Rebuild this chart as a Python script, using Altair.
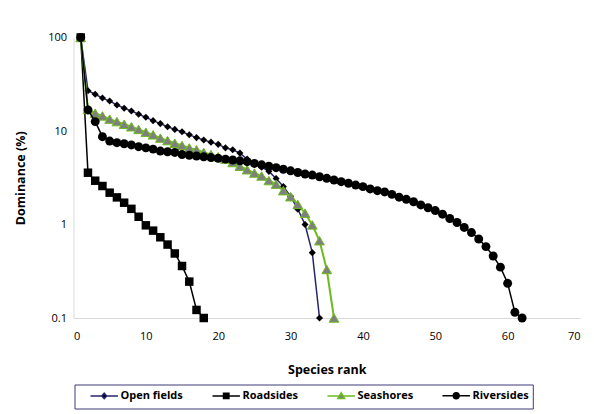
import altair as alt
import pandas as pd

series_names = ["Open fields", "Roadsides", "Seashores", "Riversides"]

open_fields = [100, 27, 24.7, 22.5, 20.9, 19, 17.5, 16.4, 15.1, 14.0, 12.9, 12.0, 11.1, 10.4,
               9.8, 9.1, 8.5, 8.0, 7.6, 7.2, 6.6, 6.3, 5.8, 5.0, 4.5, 4.1, 3.7, 3.1, 2.55,
               2.0, 1.46, 1.0, 0.5, 0.1]
roadsides = [100, 3.58, 2.94, 2.58, 2.19, 1.95, 1.71, 1.47, 1.21, 0.98, 0.86, 0.73, 0.61,
             0.49, 0.36, 0.245, 0.122, 0.1]
seashores = [100, 17, 15.5, 14.5, 13.4, 12.6, 11.8, 11.1, 10.4, 9.7, 9.1, 8.4, 7.9, 7.4, 7.0,
             6.6, 6.3, 5.9, 5.6, 5.3, 5.0, 4.6, 4.2, 3.85, 3.55, 3.3, 2.95, 2.7, 2.3, 1.98,
             1.64, 1.32, 0.99, 0.67, 0.33, 0.1]
riversides = [100, 16.8, 12.6, 8.7, 7.8, 7.5, 7.3, 7.1, 6.8, 6.6, 6.4, 6.1, 6.0, 5.9, 5.6,
              5.5, 5.4, 5.3, 5.2, 5.1, 5.0, 4.9, 4.8, 4.7, 4.5, 4.35, 4.2, 4.05, 3.9, 3.75,
              3.6, 3.47, 3.38, 3.24, 3.12, 2.99, 2.87, 2.76, 2.64, 2.54, 2.4, 2.3, 2.23, 2.1,
              1.96, 1.86, 1.75, 1.62, 1.51, 1.41, 1.29, 1.16, 1.05, 0.93, 0.82, 0.7, 0.58,
              0.46, 0.35, 0.235, 0.115, 0.1]

x_ticks = [0, 10, 20, 30, 40, 50, 60, 70]
y_ticks = [0.1, 1, 10, 100]

line_colors = ["#26266E", "#000000", "#6CBB1E", "#000000"]
line_widths = [1.5, 1.5, 2, 1.5]
point_shapes = ["diamond", "square", "triangle-up", "circle"]
point_fills = ["#000000", "#000000", "#7F7F7F", "#000000"]
point_strokes = ["#000000", "#000000", "#6CBB1E", "#000000"]
point_sizes = [50, 72, 95, 80]

# legend symbols: short line with the marker in its middle (unit = 4.5px)
legend_paths = [
    "M-1,0H1.5M2.6,0H5.1M2.05,-0.6L2.6,0L2.05,0.6L1.5,0Z",
    "M-1,0H5.1M1.45,-0.6H2.65V0.6H1.45Z",
    "M-1,0H1.6M2.5,0H5.1M2.05,-0.7L2.8,0.6H1.3Z",
    "M-1,0H5.1M2.7,0A0.65,0.65 0 1,1 1.4,0A0.65,0.65 0 1,1 2.7,0Z",
]

rows = []
for name, vals in zip(series_names, [open_fields, roadsides, seashores, riversides]):
    for i, v in enumerate(vals, start=1):
        rows.append({"series": name, "rank": i, "value": v})
df = pd.DataFrame(rows)

FONT = "Open Sans"

x_enc = alt.X(
    "rank:Q",
    scale=alt.Scale(domain=[0, 70], nice=False),
    axis=alt.Axis(values=x_ticks, title="Species rank", titleX=253.25, titleY=51,
                  titleBaseline="middle", titleAlign="center", labelPadding=12),
)
y_enc = alt.Y(
    "value:Q",
    scale=alt.Scale(type="log", domain=[0.1, 100], nice=False),
    axis=alt.Axis(values=y_ticks, format="~g", title="Dominance (%)", titleX=-53.5,
                  titleY=140.25, titleAngle=270, titleBaseline="middle", titleAlign="center",
                  labelPadding=7),
)

layers = []
for i, name in enumerate(series_names):
    base = alt.Chart(df).transform_filter(alt.datum.series == name)
    layers.append(
        base.mark_line(color=line_colors[i], strokeWidth=line_widths[i]).encode(
            x=x_enc, y=y_enc, order="rank:Q")
    )
    layers.append(
        base.mark_point(shape=point_shapes[i], filled=True, fill=point_fills[i],
                        stroke=point_strokes[i], strokeWidth=1 if i == 2 else 0,
                        size=point_sizes[i], opacity=1).encode(x=x_enc, y=y_enc)
    )

leg = alt.Legend(title=None, orient="none", legendX=16, legendY=352.5, direction="horizontal",
                 columns=4, symbolSize=81, symbolStrokeWidth=1.5, labelFont=FONT,
                 labelFontSize=11, labelFontWeight="bold", labelColor="#000000",
                 columnPadding=26, labelOffset=20, padding=0, symbolOpacity=1)

legend_layer = alt.Chart(df).transform_filter("false").mark_point(filled=True, strokeWidth=1.5).encode(
    shape=alt.Shape("series:N", scale=alt.Scale(domain=series_names, range=legend_paths), legend=leg),
    fill=alt.Fill("series:N", scale=alt.Scale(domain=series_names, range=point_fills), legend=leg),
    stroke=alt.Stroke("series:N", scale=alt.Scale(domain=series_names, range=line_colors), legend=leg),
)

legend_box = alt.Chart(pd.DataFrame({"k": [0]})).mark_rect(
    fill="#FFFFFF", fillOpacity=0, stroke="#3C3C78", strokeWidth=1
).encode(x=alt.value(1.5), x2=alt.value(459.8), y=alt.value(347.5), y2=alt.value(371.5))

chart = alt.layer(*layers, legend_box, legend_layer).properties(
    width=506.5,
    height=280.5,
    autosize=alt.AutoSizeParams(type="none"),
    padding={"left": 65.5, "top": 29.5, "right": 6, "bottom": 96},
    background="#FFFFFF",
).configure_view(stroke=None).configure_axis(
    grid=False, ticks=False, tickSize=0, domainColor="#D9D9D9", domainWidth=1,
    labelFont=FONT, labelFontSize=11, labelColor="#000000",
    titleFont=FONT, titleFontSize=12.5, titleFontWeight="bold", titleColor="#000000",
)

chart.save("out.html", embed_options={"renderer": "svg", "actions": False})
